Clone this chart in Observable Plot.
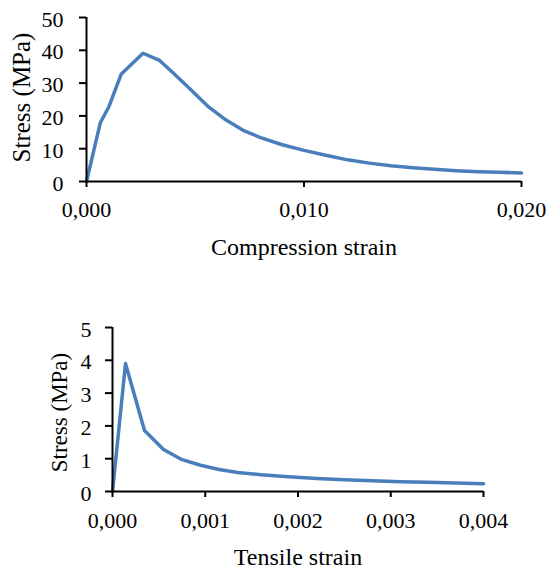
<!DOCTYPE html>
<html>
<head>
<meta charset="utf-8">
<script src="https://cdn.jsdelivr.net/npm/d3@7"></script>
<script src="https://cdn.jsdelivr.net/npm/@observablehq/plot@0.6"></script>
<style>
  html, body { margin: 0; padding: 0; background: #fff; }
  #chart { width: 549px; }
  #chart svg { display: block; overflow: visible; }
</style>
</head>
<body>
<div id="chart"></div>
<script>
// Compression curve
const compStrain = [0, 0.00064, 0.00103, 0.0016, 0.0026, 0.00336, 0.0040, 0.0048, 0.0056, 0.0064, 0.0072, 0.0080, 0.0090, 0.0100, 0.0110, 0.0120, 0.0130, 0.0140, 0.0150, 0.0160, 0.0170, 0.0180, 0.0190, 0.0200];
const compStress = [0, 18.0, 22.8, 32.8, 39.1, 36.9, 33.0, 28.0, 22.8, 18.8, 15.6, 13.4, 11.2, 9.5, 8.0, 6.6, 5.6, 4.8, 4.2, 3.7, 3.3, 3.0, 2.8, 2.6];
const compXTicks = [0, 0.010, 0.020];
const compYTicks = [0, 10, 20, 30, 40, 50];

// Tensile curve
const tensStrain = [0, 0.00014, 0.000345, 0.00055, 0.00075, 0.00095, 0.00115, 0.00135, 0.0016, 0.0019, 0.0022, 0.0025, 0.0028, 0.0031, 0.0034, 0.0037, 0.0040];
const tensStress = [0, 3.90, 1.86, 1.28, 0.97, 0.80, 0.67, 0.58, 0.51, 0.45, 0.40, 0.36, 0.33, 0.30, 0.28, 0.26, 0.24];
const tensXTicks = [0, 0.001, 0.002, 0.003, 0.004];
const tensYTicks = [0, 1, 2, 3, 4, 5];

const yLabel = "Stress (MPa)";
const compXLabel = "Compression strain";
const tensXLabel = "Tensile strain";

const FONT = "'Liberation Serif', 'Times New Roman', serif";
const LINE = "#4A7EBB";
const fmt = d => d.toFixed(3).replace(".", ",");

function chart({strain, stress, xTicks, yTicks, xDomain, yDomain, xLabel,
                height, mt, mb, ml, mr, yTickOff, xTickPad, yLabelDx, yLabelDy, yLabelSize, xLabelDy}) {
  const data = strain.map((s, i) => ({strain: s, stress: stress[i]}));
  return Plot.plot({
    width: 549,
    height,
    marginTop: mt, marginBottom: mb, marginLeft: ml, marginRight: mr,
    style: {fontFamily: FONT, background: "#fff", color: "#000", overflow: "visible"},
    x: {domain: xDomain},
    y: {domain: yDomain},
    marks: [
      Plot.line(data, {x: "strain", y: "stress", stroke: LINE, strokeWidth: 3.5, strokeLinejoin: "round"}),
      Plot.ruleY([0], {stroke: "#000", strokeWidth: 2}),
      Plot.ruleX([0], {stroke: "#000", strokeWidth: 2}),
      Plot.axisX({ticks: xTicks, tickFormat: fmt, tickSize: 6, tickPadding: xTickPad, fontSize: 22, strokeWidth: 2, stroke: "#000", fill: "#000", label: null}),
      Plot.axisY({ticks: yTicks, tickFormat: () => "", tickSize: 7, strokeWidth: 2, stroke: "#000", label: null}),
      Plot.text(yTicks, {y: d => d, text: d => String(d), frameAnchor: "left", textAnchor: "end", lineAnchor: "middle", dx: -yTickOff, dy: 2, fontSize: 22, fill: "#000"}),
      Plot.text([xLabel], {frameAnchor: "bottom", lineAnchor: "middle", textAnchor: "middle", dy: xLabelDy, fontSize: 24, fill: "#000"}),
      Plot.text([yLabel], {frameAnchor: "left", lineAnchor: "middle", textAnchor: "middle", rotate: -90, dx: yLabelDx, dy: yLabelDy, fontSize: yLabelSize, fill: "#000"})
    ]
  });
}

const compChart = chart({
  strain: compStrain, stress: compStress, xTicks: compXTicks, yTicks: compYTicks,
  xDomain: [0, 0.02], yDomain: [0, 50], xLabel: compXLabel,
  height: 282, mt: 17, mb: 101, ml: 86, mr: 28,
  yTickOff: 23, xTickPad: 14, yLabelDx: -65, yLabelDy: -2, yLabelSize: 25, xLabelDy: 66
});
const tensChart = chart({
  strain: tensStrain, stress: tensStress, xTicks: tensXTicks, yTicks: tensYTicks,
  xDomain: [0, 0.004], yDomain: [0, 5], xLabel: tensXLabel,
  height: 283, mt: 45, mb: 74, ml: 112, mr: 66,
  yTickOff: 21, xTickPad: 15, yLabelDx: -53, yLabelDy: 3, yLabelSize: 23, xLabelDy: 66
});
document.getElementById("chart").append(compChart, tensChart);
</script>
</body>
</html>
